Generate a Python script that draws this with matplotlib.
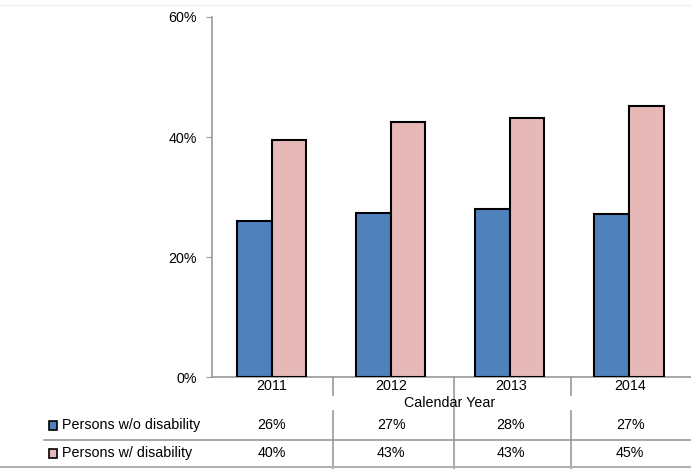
import matplotlib
matplotlib.use("Agg")
import matplotlib.pyplot as plt
import numpy as np
from matplotlib.lines import Line2D
from matplotlib.patches import Rectangle

years = ["2011", "2012", "2013", "2014"]
without_dis = [26.0, 27.3, 28.0, 27.2]
with_dis = [39.5, 42.5, 43.2, 45.2]
row_labels = ["Persons w/o disability", "Persons w/ disability"]
row_values = [["26%", "27%", "28%", "27%"], ["40%", "43%", "43%", "45%"]]
colors = ["#4F81BD", "#E6B9B8"]

plt.rcParams["font.family"] = ["Liberation Sans", "DejaVu Sans"]
fs = 10.3

W, H = 691, 469
fig = plt.figure(figsize=(W / 100, H / 100), dpi=100)

def fx(px):
    return px / W

def fy(py):
    return 1 - py / H

ax_l, ax_r, ax_t, ax_b = 212, 691, 17, 377
ax = fig.add_axes([fx(ax_l), fy(ax_b), fx(ax_r) - fx(ax_l), fy(ax_t) - fy(ax_b)])

n = len(years)
x = np.arange(n)
bw = 0.29
ax.bar(x - bw / 2, without_dis, bw, color=colors[0], edgecolor="black", linewidth=1.5, zorder=3)
ax.bar(x + bw / 2, with_dis, bw, color=colors[1], edgecolor="black", linewidth=1.5, zorder=3)

ax.set_xlim(-0.5, n - 0.5 + 0.02)
ax.set_ylim(0, 60)
ax.set_yticks([0, 20, 40, 60])
ax.set_yticklabels(["0%", "20%", "40%", "60%"], fontsize=fs)
ax.set_xticks([])
for s in ["top", "right"]:
    ax.spines[s].set_visible(False)
for s in ["left", "bottom"]:
    ax.spines[s].set_color("#9a9a9a")
    ax.spines[s].set_linewidth(1.2)
ax.tick_params(axis="y", length=4, color="#9a9a9a", pad=7)

# category positions in pixels
cat_w = 119.5
centers = [ax_l + cat_w * (i + 0.5) for i in range(n)]
seps = [333, 454, 571]

for i, yr in enumerate(years):
    fig.text(fx(centers[i]), fy(386), yr, ha="center", va="center", fontsize=fs)
fig.text(fx(450), fy(403), "Calendar Year", ha="center", va="center", fontsize=fs, zorder=5)

grey = "#9a9a9a"
for i, sx in enumerate(seps):
    if i == 1:
        segs = [(377, 469)]
    else:
        segs = [(377, 395), (411, 469)]
    for a, b in segs:
        fig.add_artist(Line2D([fx(sx), fx(sx)], [fy(a), fy(b)], color=grey, lw=1.2))

# table rows
row_y = [425, 453]
for r in range(2):
    fig.add_artist(Rectangle((fx(49), fy(row_y[r] + 4.5)), fx(8), 9 / H,
                             facecolor=colors[r], edgecolor="black", lw=1.2))
    fig.text(fx(62), fy(row_y[r]), row_labels[r], ha="left", va="center", fontsize=fs)
    for i in range(n):
        fig.text(fx(centers[i]), fy(row_y[r]), row_values[r][i], ha="center", va="center", fontsize=fs)

fig.add_artist(Line2D([fx(44), 1], [fy(440), fy(440)], color=grey, lw=1.2))
fig.add_artist(Line2D([0, 1], [fy(467), fy(467)], color="#b0b0b0", lw=1.5))
fig.add_artist(Line2D([0, 1], [fy(5), fy(5)], color="#f0f0f0", lw=1))

fig.savefig("out.png", dpi=100)
